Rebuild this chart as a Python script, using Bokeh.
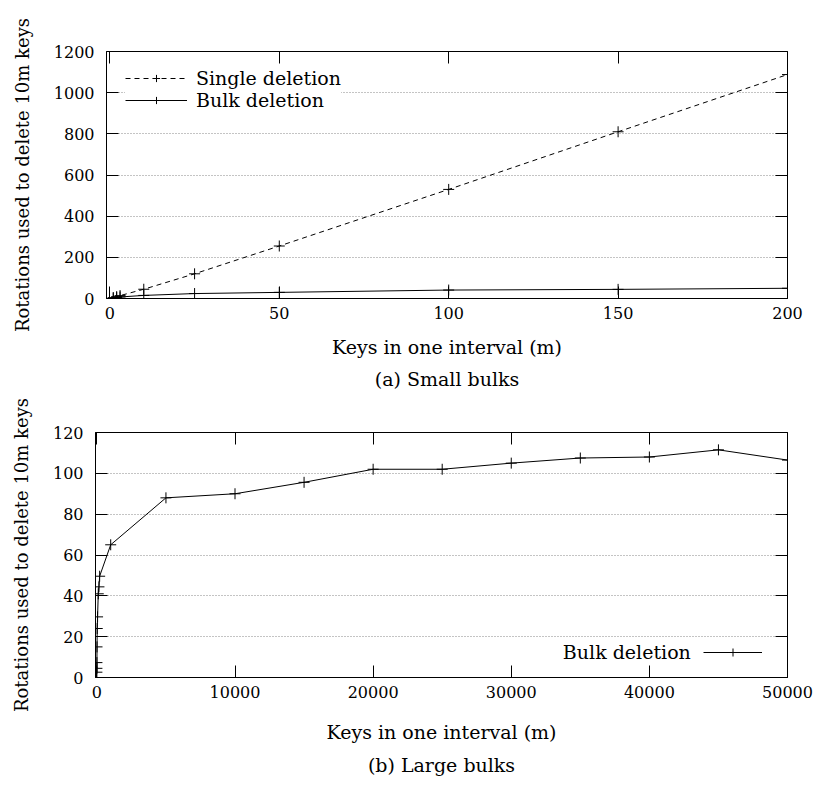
from bokeh.plotting import figure
from bokeh.models import (Range1d, LinearAxis, FixedTicker, Legend, LegendItem, Label, Title)
from bokeh.embed import file_html
from bokeh.resources import INLINE

FONT = "DejaVu Serif"
TICK_FS = "16px"
TEXT_FS = "19px"

# ---- data ----
small_m = [1, 2, 3, 10, 25, 50, 100, 150, 200]
single_small = [4, 9, 14, 45, 120, 255, 530, 810, 1088]
bulk_small = [2.6, 4.5, 7.3, 15, 24, 29.7, 41, 44.4, 49.6]

large_m = [1, 2, 3, 10, 25, 50, 100, 150, 200, 1000, 5000, 10000, 15000,
           20000, 25000, 30000, 35000, 40000, 45000, 50000]
bulk_large = [2.6, 4.5, 7.3, 15, 24, 29.7, 41, 44.4, 49.6, 65, 88, 90, 95.6,
              102, 102, 105, 107.5, 108, 111.5, 106.5]

top_xticks = [0, 50, 100, 150, 200]
top_yticks = [0, 200, 400, 600, 800, 1000, 1200]
bot_xticks = [0, 10000, 20000, 30000, 40000, 50000]
bot_yticks = [0, 20, 40, 60, 80, 100, 120]

YLABEL = "Rotations used to delete 10m keys"
XLABEL = "Keys in one interval (m)"


def style(p, xt, yt, ylab_standoff, xlab_standoff):
    p.xaxis.ticker = FixedTicker(ticks=xt)
    p.yaxis.ticker = FixedTicker(ticks=yt)
    for ax in list(p.xaxis) + list(p.yaxis):
        ax.major_tick_in = 12
        ax.major_tick_out = 0
        ax.minor_tick_in = 0
        ax.minor_tick_out = 0
        ax.major_tick_line_color = "black"
        ax.axis_line_color = "black"
        ax.major_label_text_font = FONT
        ax.major_label_text_font_size = TICK_FS
        ax.major_label_text_color = "black"
        ax.axis_label_text_font = FONT
        ax.axis_label_text_font_size = TEXT_FS
        ax.axis_label_text_font_style = "normal"
        ax.axis_label_text_color = "black"
    p.yaxis.axis_label_text_font_size = "18px"
    p.xaxis.major_label_standoff = 8
    p.xaxis.axis_label_standoff = xlab_standoff
    p.yaxis.major_label_standoff = 12
    p.yaxis.axis_label_standoff = ylab_standoff
    # mirrored ticks (labels not drawn)
    for loc, t in (("right", yt), ("above", xt)):
        ax = LinearAxis(ticker=FixedTicker(ticks=t))
        ax.major_tick_in = 12
        ax.major_tick_out = 0
        ax.minor_tick_in = 0
        ax.minor_tick_out = 0
        ax.major_label_text_font_size = "1px"
        ax.major_label_text_color = None
        ax.major_label_standoff = 0
        ax.axis_line_color = None
        ax.major_tick_line_color = "black"
        p.add_layout(ax, loc)
    p.xgrid.visible = False
    p.ygrid.ticker = FixedTicker(ticks=yt)
    p.ygrid.grid_line_color = "#888888"
    p.ygrid.grid_line_dash = "1 2"
    p.ygrid.grid_line_width = 1
    p.outline_line_color = "black"
    p.outline_line_width = 1
    p.background_fill_color = "white"
    p.border_fill_color = "white"


# ---------- top chart ----------
p1 = figure(width=819, height=394, frame_width=681, frame_height=247,
            x_range=Range1d(-1, 200), y_range=Range1d(0, 1200),
            output_backend="svg", toolbar_location=None,
            min_border_left=106, min_border_top=51, min_border_right=32,
            min_border_bottom=96,
            x_axis_label=XLABEL, y_axis_label=YLABEL)
style(p1, top_xticks, top_yticks, 18, 14)

l1 = p1.line(small_m, single_small, line_color="black", line_width=1, line_dash="5 4")
s1 = p1.scatter(small_m, single_small, marker="cross", size=11, line_color="black", line_width=1)
l2 = p1.line(small_m, bulk_small, line_color="black", line_width=1)
s2 = p1.scatter(small_m, bulk_small, marker="cross", size=11, line_color="black", line_width=1)

leg1 = Legend(items=[LegendItem(label="Single deletion", renderers=[l1, s1]),
                     LegendItem(label="Bulk deletion", renderers=[l2, s2])],
              location=(19, 187), padding=0, margin=0, spacing=0,
              glyph_width=62, glyph_height=18, label_height=18, label_standoff=9,
              label_text_font=FONT, label_text_font_size=TEXT_FS,
              label_text_color="black",
              border_line_color=None, background_fill_color="white",
              background_fill_alpha=1.0)
p1.add_layout(leg1)
p1.add_layout(Title(text="(a) Small bulks", align="center", text_font=FONT,
                    text_font_size=TEXT_FS, text_font_style="normal",
                    text_color="black"), "below")

# ---------- bottom chart ----------
p2 = figure(width=819, height=400, frame_width=692, frame_height=245,
            x_range=Range1d(-100, 50000), y_range=Range1d(0, 120),
            output_backend="svg", toolbar_location=None,
            min_border_left=95, min_border_top=38, min_border_right=32,
            min_border_bottom=117,
            x_axis_label=XLABEL, y_axis_label=YLABEL)
style(p2, bot_xticks, bot_yticks, 18, 20)

l3 = p2.line(large_m, bulk_large, line_color="black", line_width=1)
s3 = p2.scatter(large_m, bulk_large, marker="cross", size=11, line_color="black", line_width=1)

leg2 = Legend(items=[LegendItem(label=" ", renderers=[l3, s3])],
              location=(608, 15), padding=0, margin=0, spacing=0,
              glyph_width=59, glyph_height=20, label_height=20, label_standoff=0,
              label_text_font=FONT, label_text_font_size=TEXT_FS,
              border_line_color=None, background_fill_alpha=0.0)
p2.add_layout(leg2)
p2.add_layout(Label(x=43000, y=12.3, text="Bulk deletion", text_align="right",
                    text_baseline="middle", text_font=FONT, text_font_size=TEXT_FS,
                    text_color="black"))
p2.add_layout(Title(text="(b) Large bulks", align="center", text_font=FONT,
                    text_font_size=TEXT_FS, text_font_style="normal",
                    text_color="black", standoff=12), "below")

open("out.html", "w").write(file_html([p1, p2], INLINE))
